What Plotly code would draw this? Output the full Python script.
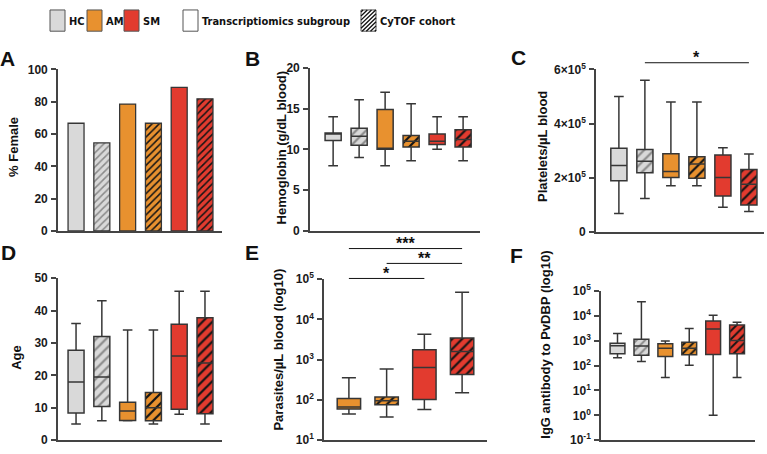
import plotly.graph_objects as go

W, H = 767, 454

# ---------------- data ----------------
groups = ["HC", "HC CyTOF", "AM", "AM CyTOF", "SM", "SM CyTOF"]
group_pos = [0, 1, 2, 3, 4, 5]

# A: % female
female_pct = [66.7, 54.5, 78.6, 66.7, 88.9, 81.8]

# B: hemoglobin (g/dL)
hb_low = [8.0, 9.0, 8.0, 8.6, 10.0, 8.6]
hb_q1 = [11.1, 10.5, 10.0, 10.3, 10.6, 10.3]
hb_med = [11.9, 11.6, 10.1, 11.0, 11.0, 11.2]
hb_q3 = [12.0, 12.6, 14.9, 11.7, 11.9, 12.4]
hb_high = [14.0, 16.1, 17.0, 15.6, 14.0, 14.0]

# C: platelets / uL
plt_low = [67000, 122000, 170000, 170000, 90000, 74000]
plt_q1 = [188000, 218000, 200000, 197000, 132000, 98000]
plt_med = [245000, 260000, 222000, 250000, 200000, 175000]
plt_q3 = [308000, 304000, 288000, 277000, 283000, 230000]
plt_high = [500000, 560000, 480000, 480000, 310000, 287000]

# D: age
age_low = [5, 6, 6, 5, 8, 5]
age_q1 = [8.4, 10.4, 6.1, 6.0, 9.6, 8.2]
age_med = [18, 19.5, 9, 10, 26, 23.8]
age_q3 = [27.8, 32, 11.7, 14.7, 35.8, 37.8]
age_high = [36, 43, 34, 34, 46, 46]

# E: parasites / uL (malaria groups only)
para_groups = ["AM", "AM CyTOF", "SM", "SM CyTOF"]
para_pos = [0, 1, 2, 3]
para_low = [45, 38, 58, 150]
para_q1 = [60, 76, 103, 430]
para_med = [67, 95, 640, 1600]
para_q3 = [108, 118, 1760, 3450]
para_high = [355, 590, 4300, 47000]

# F: IgG antibody to PvDBP
igg_low = [205, 148, 33, 104, 1.0, 33]
igg_q1 = [300, 260, 235, 272, 280, 300]
igg_med = [630, 620, 500, 500, 3000, 1020]
igg_q3 = [785, 1140, 750, 865, 6200, 4300]
igg_high = [1950, 37000, 970, 3100, 10500, 5600]

# tick labels
plt_tickvals = [0, 200000, 400000, 600000]
plt_ticktext = ["0", "2×10<sup>5</sup>", "4×10<sup>5</sup>", "6×10<sup>5</sup>"]
para_tickvals = [10, 100, 1000, 10000, 100000]
para_ticktext = ["10<sup>1</sup>", "10<sup>2</sup>", "10<sup>3</sup>", "10<sup>4</sup>", "10<sup>5</sup>"]
igg_tickvals = [0.1, 1, 10, 100, 1000, 10000, 100000]
igg_ticktext = ["10<sup>-1</sup>", "10<sup>0</sup>", "10<sup>1</sup>", "10<sup>2</sup>",
                "10<sup>3</sup>", "10<sup>4</sup>", "10<sup>5</sup>"]

# ---------------- styles ----------------
FONT = "Liberation Sans, Arial, Helvetica, sans-serif"
NARROW = "Liberation Sans Narrow, DejaVu Sans Condensed, Liberation Sans, Arial, sans-serif"
C_HC, C_AM, C_SM = "#d9d9d9", "#e8912f", "#e23b2f"
grp_color = {"HC": C_HC, "AM": C_AM, "SM": C_SM}
HATCH_HC, HATCH_DARK = "#8a8a8a", "#141414"
LINE = "#363636"
AXC = "#444444"
BW = 0.62


def fill_of(name):
    return grp_color[name.split()[0]]


def hatch_of(name):
    return HATCH_HC if name.startswith("HC") else HATCH_DARK


def px(x):
    return x / W


def py(y):
    return 1 - y / H


fig = go.Figure()

panels = {
    "A": dict(xa="x", ya="y", xpx=(58, 222), ypx=(62.7, 230), xr=(-0.70, 5.66)),
    "B": dict(xa="x2", ya="y2", xpx=(310, 480), ypx=(61, 230), xr=(-0.89, 5.65)),
    "C": dict(xa="x3", ya="y3", xpx=(596, 764), ypx=(62.7, 230.7), xr=(-0.88, 5.58)),
    "D": dict(xa="x4", ya="y4", xpx=(58, 222), ypx=(279, 447), xr=(-0.70, 5.66)),
    "E": dict(xa="x5", ya="y5", xpx=(324, 487), ypx=(280, 447), xr=(-0.66, 3.66)),
    "F": dict(xa="x6", ya="y6", xpx=(601, 755), ypx=(292.3, 447), xr=(-0.69, 5.75)),
}


def add_body(p, name, xpos, val, base=None, outline=0, patsize=7, solidity=0.32):
    hat = "CyTOF" in name
    col = fill_of(name)
    marker = dict(color=col, line=dict(color=LINE, width=outline))
    if hat:
        marker["pattern"] = dict(shape="/", fillmode="replace", bgcolor=col,
                                 fgcolor=hatch_of(name), fgopacity=1,
                                 size=patsize, solidity=solidity)
    fig.add_trace(go.Bar(x=[xpos], y=[val], base=None if base is None else [base],
                         width=BW, marker=marker, xaxis=p["xa"], yaxis=p["ya"],
                         showlegend=False, hoverinfo="skip"))


def add_boxes(panel, names, pos, low, q1, med, q3, high, patsize=7):
    p = panels[panel]
    for n, xp, a, b in zip(names, pos, q1, q3):
        add_body(p, n, xp, b - a, base=a, patsize=patsize)
    fig.add_trace(go.Box(
        x=pos, q1=q1, median=med, q3=q3, lowerfence=low, upperfence=high,
        width=BW, whiskerwidth=0.6, fillcolor="rgba(0,0,0,0)",
        line=dict(color=LINE, width=1.5), boxpoints=False,
        xaxis=p["xa"], yaxis=p["ya"], showlegend=False))


# A: bars
for n, xp, v in zip(groups, group_pos, female_pct):
    add_body(panels["A"], n, xp, v, outline=1.3, patsize=5, solidity=0.3)

add_boxes("B", groups, group_pos, hb_low, hb_q1, hb_med, hb_q3, hb_high)
add_boxes("C", groups, group_pos, plt_low, plt_q1, plt_med, plt_q3, plt_high)
add_boxes("D", groups, group_pos, age_low, age_q1, age_med, age_q3, age_high)
add_boxes("E", para_groups, para_pos, para_low, para_q1, para_med, para_q3, para_high)
add_boxes("F", groups, group_pos, igg_low, igg_q1, igg_med, igg_q3, igg_high, patsize=6)

tickfont = dict(family=FONT, size=12, color="#1a1a1a", weight="bold")
layout = dict(width=W, height=H, margin=dict(l=0, r=0, t=0, b=0),
              paper_bgcolor="white", plot_bgcolor="white",
              barmode="overlay", boxmode="overlay", showlegend=False)

yconf = {
    "A": dict(range=[0, 100], tickvals=[0, 20, 40, 60, 80, 100]),
    "B": dict(range=[0, 20], tickvals=[0, 5, 10, 15, 20]),
    "C": dict(range=[0, 600000], tickvals=plt_tickvals, ticktext=plt_ticktext),
    "D": dict(range=[0, 50], tickvals=[0, 10, 20, 30, 40, 50]),
    "E": dict(type="log", range=[1, 5], tickvals=para_tickvals, ticktext=para_ticktext),
    "F": dict(type="log", range=[-1, 5], tickvals=igg_tickvals, ticktext=igg_ticktext),
}

for k, p in panels.items():
    xname = "xaxis" + p["xa"][1:]
    yname = "yaxis" + p["ya"][1:]
    layout[xname] = dict(domain=[px(p["xpx"][0]), px(p["xpx"][1])], range=list(p["xr"]),
                         anchor=p["ya"], showline=True, linecolor=AXC, linewidth=1.6,
                         showticklabels=False, ticks="", showgrid=False, zeroline=False)
    layout[yname] = dict(domain=[py(p["ypx"][1]), py(p["ypx"][0])], anchor=p["xa"],
                         showline=True, linecolor=AXC, linewidth=1.6, ticks="outside",
                         ticklen=5, tickwidth=1.6, tickcolor=AXC, showgrid=False,
                         zeroline=False, tickfont=tickfont, ticklabelstandoff=1, **yconf[k])

fig.update_layout(**layout)

ann = []
shapes = []

# panel letters
for letter, (lx, ly) in {"A": (7.5, 51.5), "B": (252.5, 51), "C": (518, 50),
                         "D": (8.5, 252.5), "E": (252.5, 252.5), "F": (516.5, 255.5)}.items():
    ann.append(dict(text=letter, x=px(lx), y=py(ly), xref="paper", yref="paper",
                    showarrow=False, xanchor="center", yanchor="middle",
                    font=dict(family=FONT, size=21, color="#111", weight="bold")))

# y titles
for txt, (tx, ty) in {"% Female": (14, 143), "Hemoglobin (g/dL blood)": (281.5, 144),
                      "Platelets/µL blood": (543, 143), "Age": (16.5, 361),
                      "Parasites/µL blood (log10)": (279, 353),
                      "IgG antibody to PvDBP (log10)": (546, 348)}.items():
    ann.append(dict(text=txt, x=px(tx), y=py(ty), xref="paper", yref="paper",
                    showarrow=False, textangle=-90, xanchor="center", yanchor="middle",
                    font=dict(family=FONT, size=13, color="#111", weight="bold")))

# significance bars
sig = [("x3", 1, 5, 55.7, "*"), ("x5", 0, 3, 248.3, "***"),
       ("x5", 1, 3, 263.7, "**"), ("x5", 0, 2, 279.3, "*")]
for xr, a, b, yl, st in sig:
    shapes.append(dict(type="line", xref=xr, yref="paper", x0=group_pos[a], x1=group_pos[b],
                       y0=py(yl), y1=py(yl), line=dict(color="#111", width=1)))
    ann.append(dict(text=st, xref=xr, yref="paper", x=(group_pos[a] + group_pos[b]) / 2,
                    y=py(yl - 5), showarrow=False, xanchor="center", yanchor="middle",
                    font=dict(family=FONT, size=16, color="#111", weight="bold")))


# legend
def hatch_path(x0, y0, x1, y1, step):
    segs = []
    c = x0 + y0 + step / 2
    while c < x1 + y1:
        xa = max(x0, c - y1)
        xb = min(x1, c - y0)
        if xb > xa:
            segs.append("M %.5f %.5f L %.5f %.5f" % (px(xa), py(c - xa), px(xb), py(c - xb)))
        c += step
    return " ".join(segs)


legend_items = [("HC", 50, C_HC, False), ("AM", 87, C_AM, False), ("SM", 124, C_SM, False),
                ("Transcriptiomics subgroup", 183, "white", False),
                ("CyTOF cohort", 361, "white", True)]
for name, lx, col, hat in legend_items:
    shapes.append(dict(type="rect", xref="paper", yref="paper", x0=px(lx), x1=px(lx + 15),
                       y0=py(23), y1=py(1), fillcolor=col, line=dict(color="#555", width=1)))
    if hat:
        shapes.append(dict(type="path", xref="paper", yref="paper",
                           path=hatch_path(lx, 1, lx + 15, 23, 4.2),
                           line=dict(color="#111", width=1.3)))
    ann.append(dict(text=name, x=px(lx + 17), y=py(12.5), xref="paper", yref="paper",
                    showarrow=False, xanchor="left", yanchor="middle",
                    font=dict(family=NARROW, size=11, color="#111", weight="bold")))

fig.update_layout(annotations=ann, shapes=shapes)
fig.write_html("out.html")
